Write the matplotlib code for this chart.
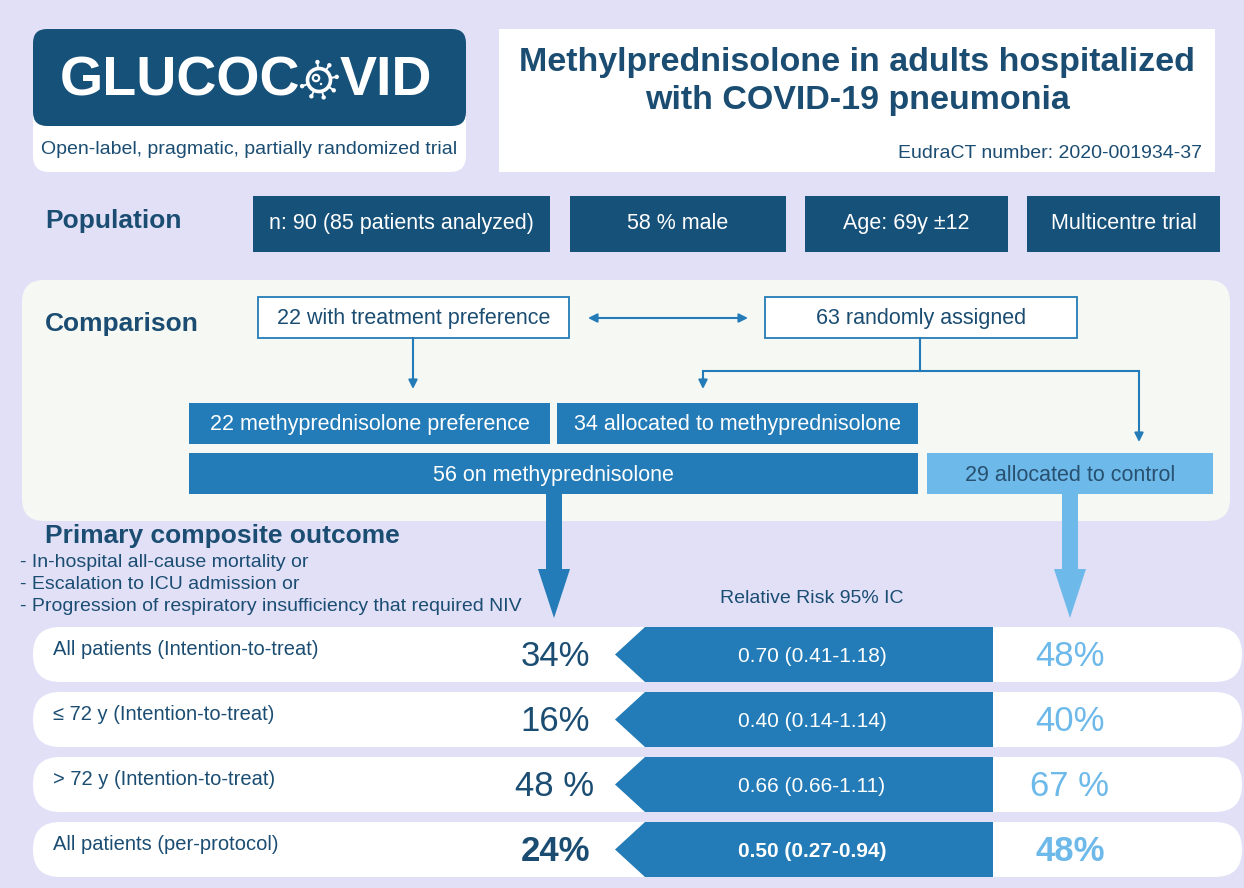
import matplotlib.pyplot as plt
from matplotlib.patches import FancyBboxPatch, Polygon, Circle, FancyArrowPatch
import numpy as np

plt.rcParams['font.family'] = ['Liberation Sans', 'DejaVu Sans']

# ---- data ----
title_lines = ["Methylprednisolone in adults hospitalized", "with COVID-19 pneumonia"]
subtitle = "Open-label, pragmatic, partially randomized trial"
eudract = "EudraCT number: 2020-001934-37"
population = ["n: 90 (85 patients analyzed)", "58 % male", "Age: 69y \u00b112", "Multicentre trial"]
flow_top = ["22 with treatment preference", "63 randomly assigned"]
flow_mid = ["22 methyprednisolone preference", "34 allocated to methyprednisolone"]
flow_bottom = ["56 on methyprednisolone", "29 allocated to control"]
outcome_items = ["- In-hospital all-cause mortality or",
                 "- Escalation to ICU admission or",
                 "- Progression of respiratory insufficiency that required NIV"]
row_labels = ["All patients (Intention-to-treat)", "\u2264 72 y (Intention-to-treat)",
              "> 72 y (Intention-to-treat)", "All patients (per-protocol)"]
pct_methyl = ["34%", "16%", "48 %", "24%"]
rel_risk = ["0.70 (0.41-1.18)", "0.40 (0.14-1.14)", "0.66 (0.66-1.11)", "0.50 (0.27-0.94)"]
pct_control = ["48%", "40%", "67 %", "48%"]
bold_row = [False, False, False, True]

# ---- colours ----
BG = "#E1E0F7"
NAVY = "#16517A"
TXT = "#1B4D72"
MID = "#237CB7"
LIGHT = "#6DB9EA"
PANEL = "#F6F8F3"

W, H = 1244, 888
fig = plt.figure(figsize=(W / 100, H / 100), dpi=100)
fig.patch.set_facecolor(BG)
ax = fig.add_axes([0, 0, 1, 1])
ax.set_xlim(0, W)
ax.set_ylim(H, 0)
ax.axis('off')


def rbox(x, y, w, h, color, r=0, ec='none', lw=0, z=1):
    style = f"round,pad=0,rounding_size={r}" if r else "square,pad=0"
    ax.add_patch(FancyBboxPatch((x, y), w, h, boxstyle=style, fc=color, ec=ec, lw=lw, zorder=z))


def arrow(p0, p1, style='-|>', color=MID):
    ax.add_patch(FancyArrowPatch(p0, p1, arrowstyle=style, mutation_scale=13,
                                 color=color, lw=1.5, shrinkA=0, shrinkB=0, zorder=3))


# ---- header: logo ----
rbox(33, 29, 433, 143, "white", r=16)
rbox(33, 29, 433, 97, NAVY, r=14, z=2)
ax.text(300, 81, "GLUCOC", color="white", fontsize=40, fontweight='bold',
        ha='right', va='center', zorder=3)
ax.text(340, 81, "VID", color="white", fontsize=40, fontweight='bold',
        ha='left', va='center', zorder=3)
# virus icon in place of the O
cx, cy = 319, 80
ax.add_patch(Circle((cx, cy), 11.5, fc='none', ec='white', lw=2.6, zorder=3))
ax.add_patch(Circle((cx - 3, cy - 2), 3.2, fc='none', ec='white', lw=1.6, zorder=3))
ax.add_patch(Circle((cx + 2, cy + 4), 1.2, fc='white', ec='none', zorder=3))
for ang in [-95, -55, -10, 35, 75, 115, 160]:
    a = np.deg2rad(ang)
    x0, y0 = cx + 11.5 * np.cos(a), cy + 11.5 * np.sin(a)
    x1, y1 = cx + 18 * np.cos(a), cy + 18 * np.sin(a)
    ax.plot([x0, x1], [y0, y1], color='white', lw=1.4, zorder=3)
    ax.add_patch(Circle((x1, y1), 2.2, fc='white', ec='none', zorder=3))
ax.text(249, 150, subtitle, color=TXT, fontsize=14, ha='center', va='center', zorder=3)

# ---- header: title ----
rbox(499, 29, 716, 143, "white")
ax.text(857, 62, title_lines[0], color=TXT, fontsize=24.5, fontweight='bold', ha='center', va='center')
ax.text(857, 100, title_lines[1], color=TXT, fontsize=24.5, fontweight='bold', ha='center', va='center')
ax.text(1202, 153, eudract, color=TXT, fontsize=14, ha='right', va='center')

# ---- population ----
ax.text(45, 221, "Population", color=TXT, fontsize=19, fontweight='bold', va='center')
pop_x = [(253, 550), (570, 786), (805, 1008), (1027, 1220)]
for (x0, x1), lab in zip(pop_x, population):
    rbox(x0, 196, x1 - x0, 56, NAVY)
    ax.text((x0 + x1) / 2, 223, lab, color='white', fontsize=15.5, ha='center', va='center')

# ---- comparison panel ----
rbox(22, 280, 1208, 241, PANEL, r=22, z=0.5)
ax.text(45, 324, "Comparison", color=TXT, fontsize=19, fontweight='bold', va='center')
top_x = [(258, 569), (765, 1077)]
for (x0, x1), lab in zip(top_x, flow_top):
    rbox(x0, 297, x1 - x0, 41, "white", ec=MID, lw=1.3)
    ax.text((x0 + x1) / 2, 318, lab, color=TXT, fontsize=15.5, ha='center', va='center')
arrow((588, 318), (748, 318), style='<|-|>')
arrow((413, 338), (413, 389))
ax.plot([920, 920], [338, 371], color=MID, lw=1.5, zorder=3)
ax.plot([703, 1139], [371, 371], color=MID, lw=1.5, zorder=3)
arrow((703, 371), (703, 389))
arrow((1139, 371), (1139, 442))

mid_x = [(189, 550), (557, 918)]
for (x0, x1), lab in zip(mid_x, flow_mid):
    rbox(x0, 403, x1 - x0, 41, MID)
    ax.text((x0 + x1) / 2, 424, lab, color='white', fontsize=15.5, ha='center', va='center')
bot_x = [(189, 918), (927, 1213)]
bot_c = [MID, LIGHT]
bot_t = ['white', "#28506F"]
for (x0, x1), lab, c, tc in zip(bot_x, flow_bottom, bot_c, bot_t):
    rbox(x0, 453, x1 - x0, 41, c)
    ax.text((x0 + x1) / 2, 475, lab, color=tc, fontsize=15.5, ha='center', va='center')

# big arrows down to the results
for xc, c in [(554, MID), (1070, LIGHT)]:
    ax.add_patch(Polygon([(xc - 8, 494), (xc + 8, 494), (xc + 8, 569), (xc + 16, 569),
                          (xc, 618), (xc - 16, 569), (xc - 8, 569)], closed=True,
                         fc=c, ec='none', zorder=2))

# ---- primary outcome ----
ax.text(45, 536, "Primary composite outcome", color=TXT, fontsize=19, fontweight='bold', va='center')
for i, item in enumerate(outcome_items):
    ax.text(20, 562 + i * 22, item, color=TXT, fontsize=14, va='center')
ax.text(812, 598, "Relative Risk 95% IC", color=TXT, fontsize=14, ha='center', va='center')

for i in range(len(row_labels)):
    y0 = 627 + i * 65
    yc = y0 + 27.5
    rbox(33, y0, 1209, 55, "white", r=27, z=1)
    ax.add_patch(Polygon([(615, yc), (645, y0), (993, y0), (993, y0 + 55), (645, y0 + 55)],
                         closed=True, fc=MID, ec='none', zorder=2))
    fw = 'bold' if bold_row[i] else 'normal'
    ax.text(53, yc - 5, row_labels[i], color=TXT, fontsize=14.5, va='center')
    ax.text(555, yc + 2, pct_methyl[i], color=TXT, fontsize=25, fontweight=fw, ha='center', va='center')
    ax.text(812, yc + 2, rel_risk[i], color='white', fontsize=15, fontweight=fw, ha='center', va='center', zorder=3)
    ax.text(1070, yc + 2, pct_control[i], color=LIGHT, fontsize=25, fontweight=fw, ha='center', va='center')

fig.savefig("out.png", dpi=100, facecolor=BG)
